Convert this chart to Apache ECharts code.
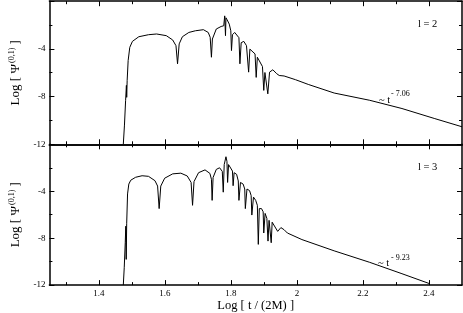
<!DOCTYPE html>
<html><head><meta charset="utf-8">
<script src="https://cdn.jsdelivr.net/npm/echarts@6/dist/echarts.min.js"></script>
<style>html,body{margin:0;padding:0;background:#fff}#c{width:463px;height:313px}</style>
</head><body><div id="c"></div>
<script>
// l = 2 panel: log10(t/2M) and log10|Psi|
const l2LogT = [1.4739,1.4774,1.4809,1.4833,1.4842,1.4856,1.4886,1.4935,1.5015,1.5208,1.5502,1.5748,1.6042,1.6235,1.6335,1.6382,1.6432,1.6529,1.6725,1.6922,1.7166,1.7312,1.7371,1.7409,1.7438,1.7556,1.7703,1.7782,1.7811,1.7835,1.7849,1.7884,1.7949,1.7996,1.8016,1.8046,1.8113,1.8172,1.8242,1.8272,1.8310,1.8389,1.8471,1.8536,1.8574,1.8633,1.8730,1.8765,1.8800,1.8853,1.8955,1.8994,1.9029,1.9073,1.9117,1.9170,1.9269,1.9387,1.9463,1.9610,1.9953,2.0343,2.1127,2.2204,2.3181,2.4158,2.5];
const l2LogPsi = [-12,-10.39,-8.31,-7.06,-8.06,-6.64,-4.98,-3.87,-3.37,-2.98,-2.81,-2.75,-2.89,-3.25,-3.73,-5.25,-3.58,-2.98,-2.62,-2.48,-2.39,-2.62,-3.03,-4.70,-3.17,-2.33,-2.12,-2.06,-1.23,-2.89,-1.39,-1.56,-1.92,-2.48,-4.14,-2.81,-2.62,-2.64,-3.06,-5.25,-3.48,-3.37,-3.73,-5.95,-4.02,-4.00,-4.42,-6.39,-4.70,-4.70,-5.48,-7.48,-5.98,-5.95,-7.77,-5.95,-5.75,-6.08,-6.23,-6.27,-6.58,-6.98,-7.70,-8.31,-9.00,-9.83,-10.53];
// l = 3 panel
const l3LogT = [1.4739,1.4768,1.4798,1.4815,1.4827,1.4842,1.4868,1.4906,1.4965,1.5112,1.5308,1.5502,1.5698,1.5778,1.5825,1.5874,1.5992,1.6235,1.6482,1.6676,1.6793,1.6837,1.6881,1.7019,1.7215,1.7362,1.7409,1.7430,1.7459,1.7556,1.7656,1.7738,1.7767,1.7796,1.7849,1.7879,1.7899,1.7928,1.7978,1.8046,1.8066,1.8096,1.8172,1.8222,1.8242,1.8289,1.8369,1.8418,1.8436,1.8486,1.8565,1.8612,1.8633,1.8683,1.8750,1.8800,1.8829,1.8859,1.8926,1.8976,1.8994,1.9035,1.9088,1.9123,1.9155,1.9196,1.9220,1.9249,1.9308,1.9416,1.9513,1.9610,1.9710,2.0150,2.1127,2.2204,2.3181,2.4011];
const l3LogPsi = [-12,-10.48,-8.39,-6.98,-9.81,-6.73,-4.23,-3.39,-3.06,-2.81,-2.68,-2.73,-3.10,-3.56,-5.48,-3.56,-2.89,-2.52,-2.46,-2.70,-3.25,-5.20,-3.18,-2.42,-2.18,-2.48,-2.98,-4.78,-2.83,-2.14,-2.00,-2.31,-4.08,-1.73,-1.06,-1.45,-3.25,-1.73,-1.73,-2.28,-3.53,-2.42,-2.56,-3.12,-4.78,-3.25,-3.39,-3.81,-5.48,-3.81,-3.95,-4.37,-6.03,-4.50,-4.78,-5.20,-8.53,-5.48,-5.48,-5.75,-7.56,-5.89,-6.31,-8.25,-6.48,-6.64,-8.39,-6.64,-6.73,-7.42,-7.10,-7.28,-7.56,-8.12,-9.08,-10.06,-11.03,-11.87];
const xMajorTicks = [1.4,1.6,1.8,2.0,2.2,2.4];
const xMinorTicks = [1.3,1.5,1.7,1.9,2.1,2.3];
const xMin = 1.25, xMax = 2.5;
const yMin = -12, yMax = 0, yStep = 4;
const panelLabels = ['l = 2', 'l = 3'];
const slopeLabels = ['- 7.06', '- 9.23'];

const FONT = 'Liberation Serif';
const chart = echarts.init(document.getElementById('c'), null, {renderer:'canvas'});
const AX = {lineStyle:{color:'#000', width:1.5}};

function xAx(grid, pos, vals, len, showLine, labels) {
  return {
    type:'value', gridIndex:grid, position:pos, min:xMin, max:xMax,
    axisLine:{show:showLine, onZero:false, ...AX},
    axisTick:{show:true, inside:true, length:len, customValues:vals, lineStyle:{color:'#000', width:1}},
    axisLabel:{show:labels, customValues:xMajorTicks, fontFamily:FONT, fontSize:9, color:'#000', margin:4},
    splitLine:{show:false},
    name: labels ? 'Log [ t / (2M) ]' : '',
    nameLocation:'middle', nameGap:12,
    nameTextStyle:{fontFamily:FONT, fontSize:12.5, color:'#000'}
  };
}
function yAx(grid, pos, labels) {
  return {
    type:'value', gridIndex:grid, position:pos, min:yMin, max:yMax, interval:yStep,
    axisLine:{show:true, onZero:false, ...AX},
    axisTick:{show:true, inside:true, length:5, lineStyle:{color:'#000', width:1}},
    minorTick:{show:true, splitNumber:2, length:3, lineStyle:{color:'#000', width:1}},
    axisLabel:{show:labels, fontFamily:FONT, fontSize:9, color:'#000', margin:4,
      formatter: v => v === 0 ? '' : String(v)},
    splitLine:{show:false},
    name: labels ? '{a|Log [ Ψ}{s|(0,1)}{a| ]}' : '',
    nameLocation:'middle', nameGap:20, nameRotate:90,
    nameTextStyle:{fontFamily:FONT, fontSize:13, color:'#000',
      rich:{a:{fontFamily:FONT, fontSize:13, color:'#000'},
            s:{fontFamily:FONT, fontSize:8, color:'#000', padding:[0,0,8,1]}}}
  };
}

const xAxes = [], yAxes = [];
for (let g = 0; g < 2; g++) {
  xAxes.push(xAx(g,'bottom',xMajorTicks,5,true,g===1));
  xAxes.push(xAx(g,'bottom',xMinorTicks,3,false,false));
  xAxes.push(xAx(g,'top',xMajorTicks,5,true,false));
  xAxes.push(xAx(g,'top',xMinorTicks,3,false,false));
  yAxes.push(yAx(g,'left',true));
  yAxes.push(yAx(g,'right',false));
}

const txt = (x,y,t,fs) => ({type:'text', x, y, style:{text:t, fontFamily:FONT, fontSize:fs, fill:'#000', textVerticalAlign:'middle'}});

chart.setOption({
  backgroundColor:'#fff',
  animation:false,
  grid:[
    {left:36.5, right:1, top:1.2, height:143.1},
    {left:36.5, right:1, top:144.3, height:144}
  ],
  xAxis:xAxes,
  yAxis:yAxes,
  series:[
    {type:'line', xAxisIndex:0, yAxisIndex:0, data:l2LogT.map((t,i)=>[t,l2LogPsi[i]]),
     showSymbol:false, symbol:'none', lineStyle:{color:'#000', width:1}, clip:true},
    {type:'line', xAxisIndex:4, yAxisIndex:2, data:l3LogT.map((t,i)=>[t,l3LogPsi[i]]),
     showSymbol:false, symbol:'none', lineStyle:{color:'#000', width:1}, clip:true}
  ],
  graphic:[
    txt(418, 24.5, panelLabels[0], 10.5),
    txt(418, 167, panelLabels[1], 10.5),
    txt(379, 100, '~ t', 10.5),
    txt(391, 94, slopeLabels[0], 8),
    txt(378, 263.5, '~ t', 10.5),
    txt(391, 257.5, slopeLabels[1], 8)
  ]
});
</script></body></html>
